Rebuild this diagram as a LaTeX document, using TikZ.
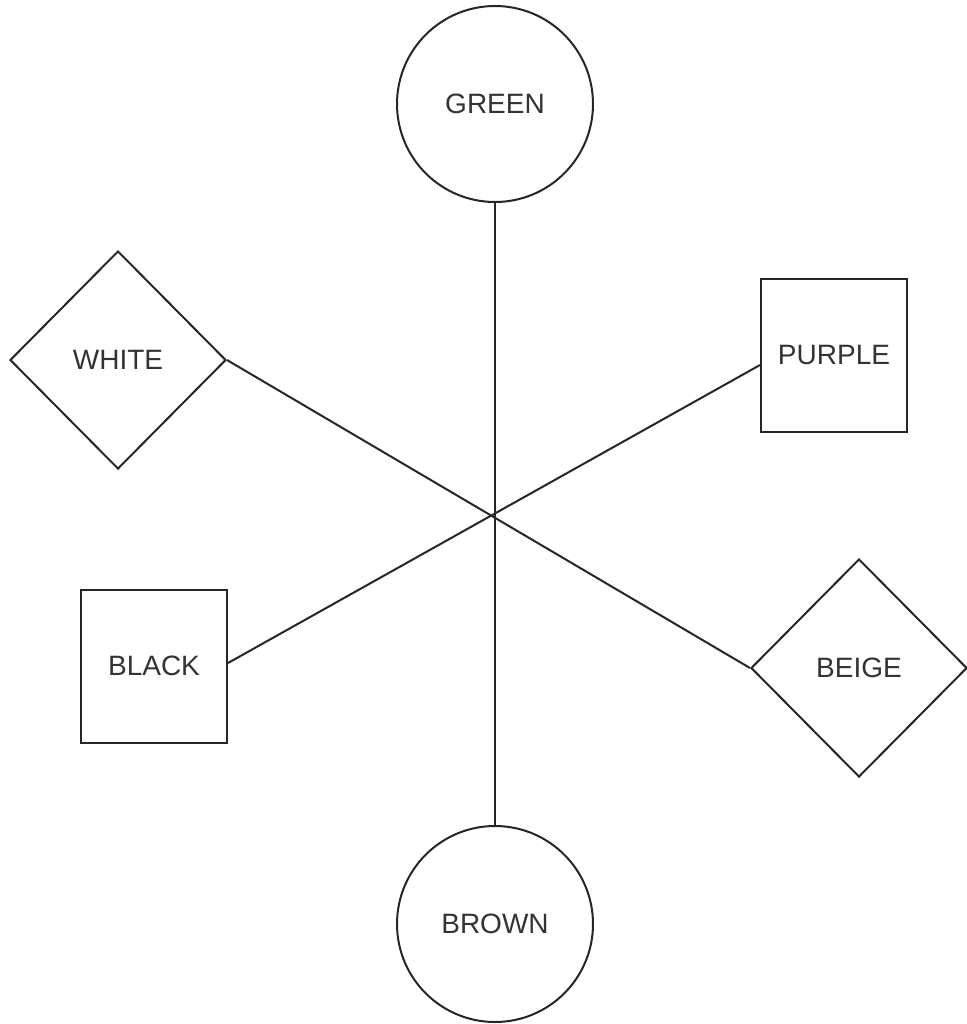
\documentclass[tikz,border=0pt]{standalone}
\usepackage{fontspec}
\setmainfont{Liberation Sans}
\usetikzlibrary{shapes.geometric}
\begin{document}
\begin{tikzpicture}[x=0.5pt,y=-0.5pt,
  base/.style={draw=black!85, line width=1pt, inner sep=0pt, font=\fontsize{14}{16}\selectfont, text=black!80},
  roundbox/.style={base, circle, minimum size=98pt},
  squarebox/.style={base, rectangle, minimum width=73pt, minimum height=76.5pt},
  diamondbox/.style={base, diamond, minimum width=108pt, minimum height=109pt},
  link/.style={draw=black!85, line width=1pt}]
\useasboundingbox (0,0) rectangle (966,1024);
\node[roundbox] (green) at (495,104) {GREEN};
\node[roundbox] (brown) at (495,924) {BROWN};
\node[diamondbox] (white) at (118,360) {WHITE};
\node[diamondbox] (beige) at (859,668) {BEIGE};
\node[squarebox] (purple) at (834,355) {PURPLE};
\node[squarebox] (black) at (154,666) {BLACK};
\draw[link] (green.south) -- (brown.north);
\draw[link] (white.east) -- (beige.west);
\draw[link] ([yshift=-5pt]purple.west) -- ([yshift=1.5pt]black.east);
\end{tikzpicture}
\end{document}
